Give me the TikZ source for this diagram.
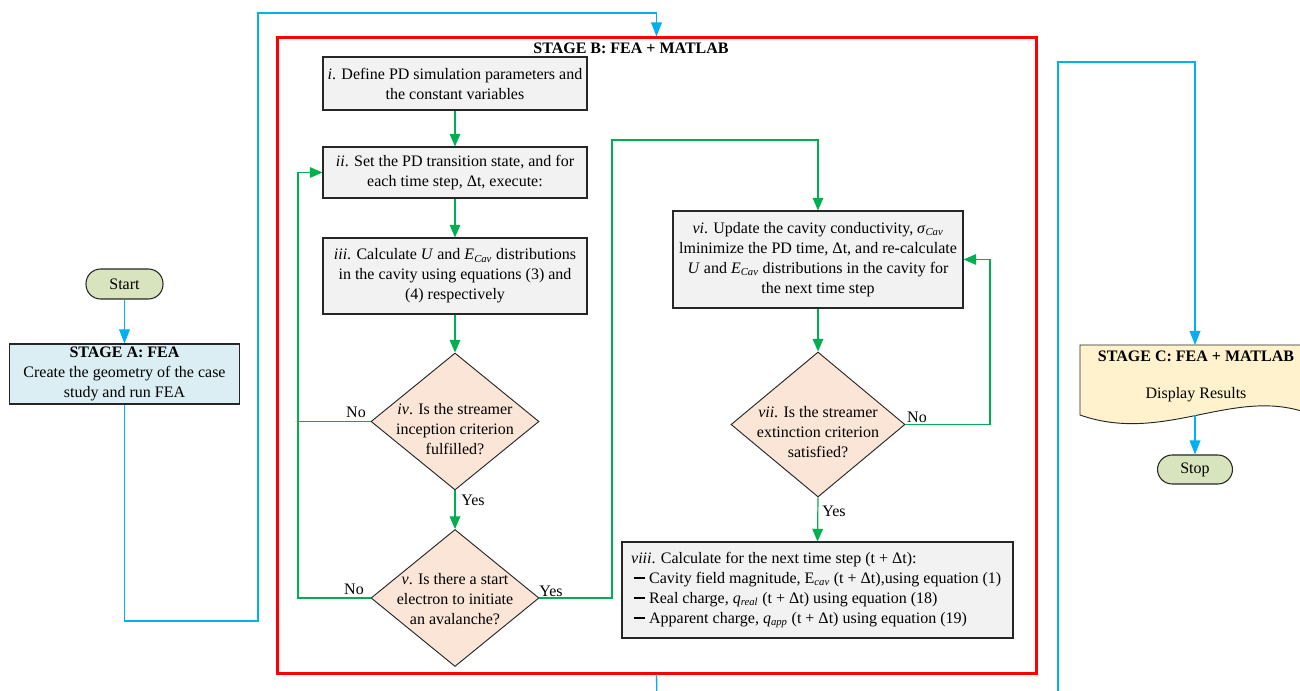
\documentclass[tikz,border=0pt]{standalone}
\usepackage{fontspec}
\setmainfont{Liberation Serif}
\usetikzlibrary{arrows.meta,shapes.geometric,calc}
\definecolor{flowgreen}{HTML}{00B050}
\definecolor{flowblue}{HTML}{00B0F0}
\definecolor{boxgray}{HTML}{F2F2F2}
\definecolor{decfill}{HTML}{FBE5D6}
\definecolor{termfill}{HTML}{D7E4BD}
\definecolor{stageafill}{HTML}{DAEEF3}
\definecolor{stagecfill}{HTML}{FFF2CC}
\newcommand{\Dt}{Δt}
\newcommand{\bulletdash}{\rule[3.3pt]{8.5pt}{1.4pt}\hspace{3pt}}
\begin{document}
\begin{tikzpicture}[x=0.75pt,y=-0.75pt,
  every node/.style={font=\fontsize{12}{15}\selectfont},
  proc/.style={draw=black!85, line width=0.8pt, fill=boxgray, align=center, inner sep=0pt},
  stagea/.style={proc, fill=stageafill},
  dec/.style={diamond, draw=black!85, line width=0.7pt, fill=decfill, inner sep=0pt},
  dectext/.style={align=center, inner sep=0pt},
  term/.style={draw=black!85, line width=0.8pt, fill=termfill, rounded corners=11pt, inner sep=0pt},
  gline/.style={draw=flowgreen, line width=0.9pt},
  garrow/.style={gline, -{Triangle[length=9.5pt,width=8pt]}},
  bline/.style={draw=flowblue, line width=1pt},
  barrow/.style={bline, -{Triangle[length=10.5pt,width=8pt]}},
  lbl/.style={inner sep=1pt},
  redframe/.style={draw=red, line width=2.25pt, inner sep=0pt}
]
\useasboundingbox (0,0) rectangle (1300,691);
\clip (0,0) rectangle (1300,691);

% ---------- Stage B frame ----------
\node[redframe, minimum width=569.25pt, minimum height=476.25pt] (B) at (656.5,355.5) {};
\node[font=\fontsize{12}{15}\selectfont\bfseries] (Btitle) at (631,48) {STAGE B: FEA + MATLAB};

% ---------- Stage A ----------
\node[term, minimum width=57.75pt, minimum height=22.5pt] (start) at (124.5,284) {Start};
\node[stagea, minimum width=172.5pt, minimum height=45pt] (A) at (124.5,374)
  {\textbf{STAGE A: FEA}\\Create the geometry of the case\\study and run FEA};

% ---------- Stage B left column ----------
\node[proc, minimum width=198pt, minimum height=39.75pt] (p1) at (455,83.5)
  {\textit{i}. Define PD simulation parameters and\\the constant variables};
\node[proc, minimum width=198pt, minimum height=38.25pt] (p2) at (455,172.5)
  {\textit{ii}. Set the PD transition state, and for\\each time step, \Dt, execute:};
\node[proc, minimum width=198pt, minimum height=57pt] (p3) at (455,276)
  {\textit{iii}. Calculate \textit{U} and \textit{E}\textsubscript{\textit{Cav}} distributions\\in the cavity using equations (3) and\\(4) respectively};
\node[dec, minimum width=126pt, minimum height=102.75pt] (d4) at (455,421.5) {};
\node[dectext] (d4t) at (455,429) {\textit{iv}. Is the streamer\\inception criterion\\fulfilled?};
\node[dec, minimum width=126pt, minimum height=102.75pt] (d5) at (455,598) {};
\node[dectext] (d5t) at (455,599) {\textit{v}. Is there a start\\electron to initiate\\an avalanche?};

% ---------- Stage B right column ----------
\node[proc, minimum width=217.5pt, minimum height=72.75pt] (p6) at (818,259.5)
  {\textit{vi}. Update the cavity conductivity, \textit{σ}\textsubscript{\textit{Cav}}\\lminimize the PD time, \Dt, and re-calculate\\\textit{U} and \textit{E}\textsubscript{\textit{Cav}} distributions in the cavity for\\the next time step};
\node[dec, minimum width=130.5pt, minimum height=108.75pt] (d7) at (818,424.5) {};
\node[dectext] (d7t) at (818,432) {\textit{vii}. Is the streamer\\extinction criterion\\satisfied?};
\node[proc, minimum width=293.25pt, minimum height=72pt, align=left] (p8) at (817.5,590)
  {\hspace*{-2pt}\textit{viii}. Calculate for the next time step (t + \Dt):\\
   \bulletdash Cavity field magnitude, E\textsubscript{\textit{cav}} (t + \Dt),using equation (1)\\
   \bulletdash Real charge, \textit{q}\textsubscript{\textit{real}} (t + \Dt) using equation (18)\\
   \bulletdash Apparent charge, \textit{q}\textsubscript{\textit{app}} (t + \Dt) using equation (19)};

% ---------- Stage C ----------
\draw[fill=stagecfill, draw=black!85, line width=0.7pt]
  (1080,345) -- (1310,345) -- (1310,414) .. controls (1235,385) and (1165,445) .. (1080,415) -- cycle;
\coordinate (Ctop) at (1195,345);
\coordinate (Cbot) at (1195,415);
\node[font=\fontsize{12}{15}\selectfont\bfseries] (Ct) at (1196,356) {STAGE C: FEA + MATLAB};
\node (Cd) at (1196,395) {Display Results};
\node[term, minimum width=56.25pt, minimum height=21.75pt] (stop) at (1195,469.5) {Stop};

% ---------- blue connectors ----------
\coordinate (a1) at (258,621);
\coordinate (a2) at (258,13);
\coordinate (bout) at (657,700);
\coordinate (cin) at (1058,700);
\coordinate (c1) at (1058,62);
\draw[barrow] (start.south) -- (A.north);
\draw[barrow] (A.south) |- (a1) -- (a2) -| (B.north);
\draw[bline] (B.south) -- (bout);
\draw[barrow] (cin) -- (c1) -| (Ctop);
\draw[barrow] (Cbot) -- (stop.north);

% ---------- green connectors ----------
\coordinate (lp) at (298,598);
\coordinate (y1) at (612,140);
\coordinate (n1) at (990,259.5);
\draw[garrow] (p1.south) -- (p2.north);
\draw[garrow] (p2.south) -- (p3.north);
\draw[garrow] (p3.south) -- (d4.north);
\draw[garrow] (d4.south) -- (d5.north);
\draw[gline] (d4.west) -- (d4.west -| lp);
\draw[garrow] (d5.west) -- (lp) |- (p2.west);
\draw[garrow] (d5.east) -| (y1) -| (p6.north);
\draw[garrow] (p6.south) -- (d7.north);
\draw[garrow] (d7.east) -| (n1) -- (p6.east);
\draw[garrow] (d7.south) -- (p8.north);

% ---------- labels ----------
\node[lbl] (l1) at (356,412) {No};
\node[lbl] (l2) at (473,500) {Yes};
\node[lbl] (l3) at (354,589) {No};
\node[lbl] (l4) at (551,591) {Yes};
\node[lbl] (l5) at (917,417) {No};
\node[lbl] (l6) at (834,511) {Yes};
\end{tikzpicture}
\end{document}
